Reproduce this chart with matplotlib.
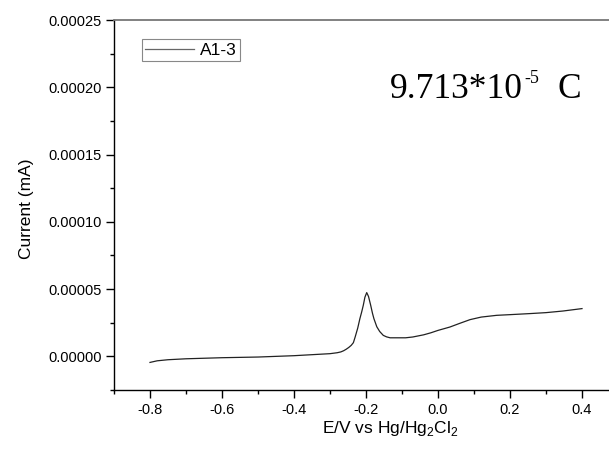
import matplotlib
matplotlib.use("Agg")
import matplotlib.pyplot as plt
from matplotlib.ticker import MultipleLocator, FormatStrFormatter

plt.rcParams['font.family'] = ['Liberation Sans', 'DejaVu Sans']
plt.rcParams['mathtext.fontset'] = 'custom'
plt.rcParams['mathtext.rm'] = 'Liberation Sans'
plt.rcParams['mathtext.sf'] = 'Liberation Sans'

# Data
potential = [-0.80, -0.78, -0.75, -0.70, -0.60, -0.50, -0.40, -0.30, -0.28, -0.27,
             -0.262, -0.255, -0.248, -0.241, -0.235, -0.230, -0.223, -0.217, -0.212,
             -0.2075, -0.203, -0.198, -0.193, -0.187, -0.182, -0.178, -0.170, -0.162,
             -0.152, -0.143, -0.133, -0.11, -0.09, -0.07, -0.04, -0.02, 0.0, 0.033,
             0.06, 0.089, 0.12, 0.163, 0.2, 0.256, 0.3, 0.347, 0.4]
current = [-0.45e-5, -0.33e-5, -0.25e-5, -0.18e-5, -0.10e-5, -0.05e-5, 0.05e-5, 0.20e-5,
           0.27e-5, 0.33e-5, 0.42e-5, 0.53e-5, 0.66e-5, 0.82e-5, 1.02e-5, 1.45e-5,
           2.1e-5, 2.8e-5, 3.3e-5, 3.8e-5, 4.4e-5, 4.74e-5, 4.45e-5, 3.8e-5, 3.2e-5,
           2.8e-5, 2.2e-5, 1.85e-5, 1.56e-5, 1.45e-5, 1.38e-5, 1.38e-5, 1.38e-5,
           1.44e-5, 1.6e-5, 1.75e-5, 1.93e-5, 2.18e-5, 2.45e-5, 2.73e-5, 2.92e-5,
           3.05e-5, 3.1e-5, 3.18e-5, 3.25e-5, 3.37e-5, 3.55e-5]
series_name = "A1-3"
annot_main = "9.713*10"
annot_sup = "-5"
annot_unit = "C"
xlabel = r"E/V vs Hg/Hg$_\mathsf{2}$Cl$_\mathsf{2}$"
ylabel = "Current (mA)"

W, H = 609, 453
fig = plt.figure(figsize=(W / 100, H / 100), dpi=100)
ax = fig.add_axes([114 / W, 63 / H, 495 / W, 370 / H])

ax.plot(potential, current, color='#222222', lw=0.9, label=series_name)

ax.set_xlim(-0.9, 0.475)
ax.set_ylim(-0.000025, 0.00025)
ax.xaxis.set_major_locator(MultipleLocator(0.2))
ax.xaxis.set_minor_locator(MultipleLocator(0.1))
ax.yaxis.set_major_locator(MultipleLocator(0.00005))
ax.yaxis.set_minor_locator(MultipleLocator(0.000025))
ax.xaxis.set_major_formatter(FormatStrFormatter('%.1f'))
ax.yaxis.set_major_formatter(FormatStrFormatter('%.5f'))

ax.spines['right'].set_visible(False)
ax.spines['top'].set_color('#777777')
ax.spines['top'].set_linewidth(1.3)
for s in ['left', 'bottom']:
    ax.spines[s].set_linewidth(1.0)
    ax.spines[s].set_color('black')

ax.tick_params(which='major', direction='out', length=5.5, width=1.0, labelsize=10.5, pad=3.5)
ax.tick_params(which='minor', direction='out', length=3, width=1.0)
ax.tick_params(top=False, right=False, which='both')

ax.set_xlabel(xlabel, fontsize=12.5)
ax.xaxis.label.set_va('baseline')
ax.xaxis.set_label_coords((390 - 114) / 495, (390 - 433) / 370)
ax.set_ylabel(ylabel, fontsize=12.5)
ax.yaxis.set_label_coords((34 - 114) / 495, (390 - 208.5) / 370)

leg = ax.legend(loc='upper left', bbox_to_anchor=(0.0566, 0.9486), borderaxespad=0,
                fontsize=12.5, handlelength=2.8, handletextpad=0.35, borderpad=0.2,
                fancybox=False, framealpha=1)
leg.get_frame().set_edgecolor('#888888')
leg.get_frame().set_linewidth(0.8)
leg.get_lines()[0].set_color('#666666')

# Annotation: main text, small raised "-5", then unit
base_px_x, base_px_y = 390, H - 98
t1 = fig.text(base_px_x / W, base_px_y / H, annot_main, fontsize=25.5,
              family='Liberation Serif', va='baseline', ha='left')
fig.canvas.draw()
r = fig.canvas.get_renderer()
bb1 = t1.get_window_extent(r)
t2 = fig.text((bb1.x1 + 1) / W, (base_px_y + 15) / H, annot_sup, fontsize=13,
              family='Liberation Serif', va='baseline', ha='left')
fig.canvas.draw()
bb2 = t2.get_window_extent(r)
fig.text((bb2.x1 + 19) / W, base_px_y / H, annot_unit, fontsize=25.5,
         family='Liberation Serif', va='baseline', ha='left')

fig.savefig('out.png', dpi=100)
